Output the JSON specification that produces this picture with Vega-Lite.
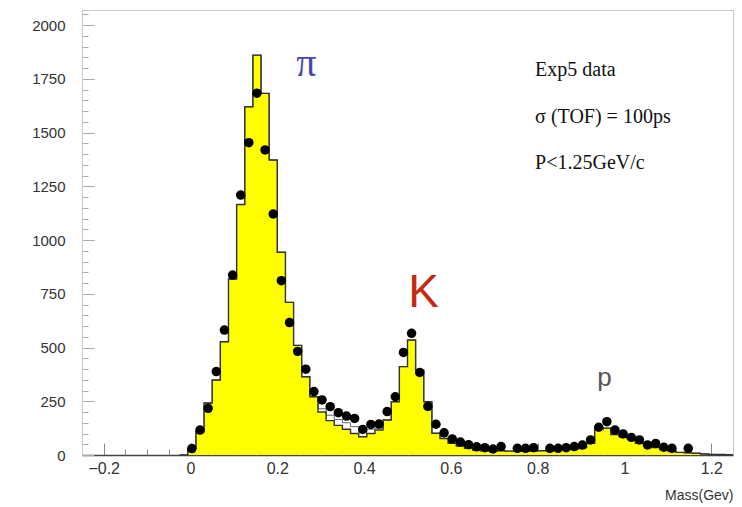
{
  "$schema": "https://vega.github.io/schema/vega-lite/v6.json",
  "width": 651,
  "height": 445,
  "autosize": "none",
  "padding": {"left": 82, "top": 10, "right": 9, "bottom": 52},
  "background": "white",
  "config": {"view": {"stroke": "#c8c8c8", "strokeWidth": 1}, "font": "Liberation Sans", "axis": {"labelOverlap": false, "labelFlush": false, "labelBound": false, "grid": false}},
  "resolve": {"axis": {"x": "independent", "y": "independent"}},
  "datasets": {
    "hist": [
      {"lo": -0.025, "n": 0, "tot": 0},
      {"lo": -0.00625, "n": 30, "tot": 30},
      {"lo": 0.0125, "n": 108, "tot": 108},
      {"lo": 0.03125, "n": 242, "tot": 242},
      {"lo": 0.05, "n": 349, "tot": 349},
      {"lo": 0.06875, "n": 527, "tot": 527},
      {"lo": 0.0875, "n": 819, "tot": 819},
      {"lo": 0.10625, "n": 1165, "tot": 1165},
      {"lo": 0.125, "n": 1620, "tot": 1620},
      {"lo": 0.14375, "n": 1860, "tot": 1860},
      {"lo": 0.1625, "n": 1682, "tot": 1682},
      {"lo": 0.18125, "n": 1372, "tot": 1372},
      {"lo": 0.2, "n": 943, "tot": 943},
      {"lo": 0.21875, "n": 710, "tot": 710},
      {"lo": 0.2375, "n": 510, "tot": 510},
      {"lo": 0.25625, "n": 364, "tot": 364},
      {"lo": 0.275, "n": 271, "tot": 271},
      {"lo": 0.29375, "n": 200, "tot": 215},
      {"lo": 0.3125, "n": 160, "tot": 185},
      {"lo": 0.33125, "n": 138, "tot": 165},
      {"lo": 0.35, "n": 120, "tot": 150},
      {"lo": 0.36875, "n": 100, "tot": 132},
      {"lo": 0.3875, "n": 85, "tot": 105},
      {"lo": 0.40625, "n": 100, "tot": 120},
      {"lo": 0.425, "n": 116, "tot": 125},
      {"lo": 0.44375, "n": 163, "tot": 163},
      {"lo": 0.4625, "n": 248, "tot": 248},
      {"lo": 0.48125, "n": 411, "tot": 411},
      {"lo": 0.5, "n": 535, "tot": 535},
      {"lo": 0.51875, "n": 395, "tot": 395},
      {"lo": 0.5375, "n": 248, "tot": 248},
      {"lo": 0.55625, "n": 101, "tot": 101},
      {"lo": 0.575, "n": 77, "tot": 77},
      {"lo": 0.59375, "n": 54, "tot": 54},
      {"lo": 0.6125, "n": 42, "tot": 42},
      {"lo": 0.63125, "n": 31, "tot": 31},
      {"lo": 0.65, "n": 23, "tot": 23},
      {"lo": 0.66875, "n": 20, "tot": 20},
      {"lo": 0.6875, "n": 18, "tot": 18},
      {"lo": 0.70625, "n": 20, "tot": 20},
      {"lo": 0.725, "n": 18, "tot": 18},
      {"lo": 0.74375, "n": 18, "tot": 18},
      {"lo": 0.7625, "n": 17, "tot": 17},
      {"lo": 0.78125, "n": 18, "tot": 18},
      {"lo": 0.8, "n": 20, "tot": 20},
      {"lo": 0.81875, "n": 20, "tot": 20},
      {"lo": 0.8375, "n": 22, "tot": 22},
      {"lo": 0.85625, "n": 25, "tot": 25},
      {"lo": 0.875, "n": 28, "tot": 28},
      {"lo": 0.89375, "n": 35, "tot": 35},
      {"lo": 0.9125, "n": 55, "tot": 55},
      {"lo": 0.93125, "n": 120, "tot": 120},
      {"lo": 0.95, "n": 125, "tot": 125},
      {"lo": 0.96875, "n": 95, "tot": 95},
      {"lo": 0.9875, "n": 85, "tot": 85},
      {"lo": 1.00625, "n": 75, "tot": 75},
      {"lo": 1.025, "n": 55, "tot": 55},
      {"lo": 1.04375, "n": 45, "tot": 45},
      {"lo": 1.0625, "n": 35, "tot": 35},
      {"lo": 1.08125, "n": 25, "tot": 25},
      {"lo": 1.1, "n": 18, "tot": 18},
      {"lo": 1.11875, "n": 12, "tot": 12},
      {"lo": 1.1375, "n": 10, "tot": 10},
      {"lo": 1.15625, "n": 8, "tot": 8},
      {"lo": 1.175, "n": 5, "tot": 5},
      {"lo": 1.19375, "n": 3, "tot": 3},
      {"lo": 1.2125, "n": 2, "tot": 2},
      {"lo": 1.23125, "n": 1, "tot": 1},
      {"lo": 1.25, "n": 1, "tot": 1}
    ],
    "pts": [
      {"c": 0.003125, "d": 30},
      {"c": 0.021875, "d": 116},
      {"c": 0.040625, "d": 217},
      {"c": 0.059375, "d": 388},
      {"c": 0.078125, "d": 581},
      {"c": 0.096875, "d": 837},
      {"c": 0.115625, "d": 1209},
      {"c": 0.134375, "d": 1453},
      {"c": 0.153125, "d": 1683},
      {"c": 0.171875, "d": 1419},
      {"c": 0.190625, "d": 1121},
      {"c": 0.209375, "d": 811},
      {"c": 0.228125, "d": 616},
      {"c": 0.246875, "d": 482},
      {"c": 0.265625, "d": 399},
      {"c": 0.284375, "d": 295},
      {"c": 0.303125, "d": 256},
      {"c": 0.321875, "d": 225},
      {"c": 0.340625, "d": 197},
      {"c": 0.359375, "d": 181},
      {"c": 0.378125, "d": 170},
      {"c": 0.396875, "d": 119},
      {"c": 0.415625, "d": 142},
      {"c": 0.434375, "d": 144},
      {"c": 0.453125, "d": 202},
      {"c": 0.471875, "d": 271},
      {"c": 0.490625, "d": 477},
      {"c": 0.509375, "d": 566},
      {"c": 0.528125, "d": 384},
      {"c": 0.546875, "d": 226},
      {"c": 0.565625, "d": 143},
      {"c": 0.584375, "d": 103},
      {"c": 0.603125, "d": 75},
      {"c": 0.621875, "d": 60},
      {"c": 0.640625, "d": 48},
      {"c": 0.659375, "d": 38},
      {"c": 0.678125, "d": 34},
      {"c": 0.696875, "d": 28},
      {"c": 0.715625, "d": 39},
      {"c": 0.753125, "d": 31},
      {"c": 0.771875, "d": 31},
      {"c": 0.790625, "d": 34},
      {"c": 0.828125, "d": 31},
      {"c": 0.846875, "d": 31},
      {"c": 0.865625, "d": 34},
      {"c": 0.884375, "d": 39},
      {"c": 0.903125, "d": 46},
      {"c": 0.921875, "d": 70},
      {"c": 0.940625, "d": 129},
      {"c": 0.959375, "d": 155},
      {"c": 0.978125, "d": 116},
      {"c": 0.996875, "d": 98},
      {"c": 1.015625, "d": 82},
      {"c": 1.034375, "d": 70},
      {"c": 1.053125, "d": 47},
      {"c": 1.071875, "d": 54},
      {"c": 1.090625, "d": 36},
      {"c": 1.109375, "d": 31},
      {"c": 1.146875, "d": 31}
    ]
  },
  "layer": [
    {
      "data": {"name": "hist"},
      "mark": {"type": "area", "interpolate": "step-after", "color": "#ffff00", "opacity": 1},
      "encoding": {
        "x": {
          "field": "lo", "type": "quantitative",
          "scale": {"domain": [-0.25, 1.25], "nice": false, "zero": false},
          "axis": {
            "orient": "bottom",
            "values": [-0.2, 0, 0.2, 0.4, 0.6, 0.8, 1, 1.2],
            "format": "~g",
            "tickSize": -12,
            "tickColor": "#888",
            "domainColor": "#444",
            "domainWidth": 1.5,
            "labelColor": "#333",
            "labelFontSize": 16,
            "labelPadding": 17,
            "labelFlush": false,
            "labelOverlap": false,
            "labelBound": false,
            "grid": false,
            "title": "Mass(Gev)",
            "titleAnchor": "end",
            "titleAlign": "right",
            "titleBaseline": "alphabetic",
            "titleY": 44,
            "titleFontWeight": "normal",
            "titleFontSize": 14,
            "titleColor": "#333"
          }
        },
        "y": {
          "field": "n", "type": "quantitative",
          "scale": {"domain": [0, 2070], "nice": false},
          "axis": {
            "orient": "left",
            "values": [0, 250, 500, 750, 1000, 1250, 1500, 1750, 2000],
            "format": "d",
            "tickSize": -12,
            "tickColor": "#aaa",
            "domainColor": "#c8c8c8",
            "labelColor": "#333",
            "labelFontSize": 15,
            "labelPadding": 29,
            "labelOverlap": false,
            "labelBound": false,
            "labelFlush": false,
            "grid": false,
            "title": null
          }
        }
      }
    },
    {
      "data": {"name": "hist"},
      "mark": {"type": "line", "interpolate": "step-after", "color": "#666", "strokeWidth": 1},
      "encoding": {
        "x": {"field": "lo", "type": "quantitative", "axis": null},
        "y": {"field": "tot", "type": "quantitative", "axis": null}
      }
    },
    {
      "data": {"name": "hist"},
      "mark": {"type": "line", "interpolate": "step-after", "color": "#333", "strokeWidth": 1.4},
      "encoding": {
        "x": {
          "field": "lo", "type": "quantitative",
          "axis": {
            "orient": "bottom",
            "values": [-0.15, -0.1, -0.05, 0.05, 0.1, 0.15, 0.25, 0.3, 0.35, 0.45, 0.5, 0.55, 0.65, 0.7, 0.75, 0.85, 0.9, 0.95, 1.05, 1.1, 1.15],
            "labels": false,
            "domain": false,
            "tickSize": -6,
            "tickColor": "#888",
            "grid": false,
            "title": null
          }
        },
        "y": {
          "field": "n", "type": "quantitative",
          "axis": {
            "orient": "left",
            "values": [50, 100, 150, 200, 300, 350, 400, 450, 550, 600, 650, 700, 800, 850, 900, 950, 1050, 1100, 1150, 1200, 1300, 1350, 1400, 1450, 1550, 1600, 1650, 1700, 1800, 1850, 1900, 1950, 2050],
            "labels": false,
            "domain": false,
            "tickSize": -6,
            "tickColor": "#aaa",
            "grid": false,
            "title": null
          }
        }
      }
    },
    {
      "data": {"name": "pts"},
      "mark": {"type": "point", "filled": true, "color": "#000", "opacity": 1, "size": 90},
      "encoding": {
        "x": {"field": "c", "type": "quantitative", "axis": null},
        "y": {"field": "d", "type": "quantitative", "axis": null}
      }
    },
    {
      "data": {"values": [{"x": 0.267, "y": 1763, "t": "π"}]},
      "mark": {"type": "text", "font": "Liberation Serif", "fontSize": 40, "color": "#4848b0", "align": "center", "baseline": "alphabetic"},
      "encoding": {
        "x": {"field": "x", "type": "quantitative", "axis": null},
        "y": {"field": "y", "type": "quantitative", "axis": null},
        "text": {"field": "t"}
      }
    },
    {
      "data": {"values": [{"x": 0.537, "y": 688, "t": "K"}]},
      "mark": {"type": "text", "font": "Liberation Sans", "fontSize": 46, "color": "#c42a10", "align": "center", "baseline": "alphabetic"},
      "encoding": {
        "x": {"field": "x", "type": "quantitative", "axis": null},
        "y": {"field": "y", "type": "quantitative", "axis": null},
        "text": {"field": "t"}
      }
    },
    {
      "data": {"values": [{"x": 0.954, "y": 321, "t": "p"}]},
      "mark": {"type": "text", "font": "Liberation Sans", "fontSize": 26, "color": "#555", "align": "center", "baseline": "alphabetic"},
      "encoding": {
        "x": {"field": "x", "type": "quantitative", "axis": null},
        "y": {"field": "y", "type": "quantitative", "axis": null},
        "text": {"field": "t"}
      }
    },
    {
      "data": {"values": [
        {"x": 0.794, "y": 1763, "t": "Exp5 data"},
        {"x": 0.794, "y": 1543, "t": "σ (TOF) = 100ps"},
        {"x": 0.794, "y": 1329, "t": "P<1.25GeV/c"}
      ]},
      "mark": {"type": "text", "font": "Liberation Serif", "fontSize": 20, "color": "#111", "align": "left", "baseline": "alphabetic"},
      "encoding": {
        "x": {"field": "x", "type": "quantitative", "axis": null},
        "y": {"field": "y", "type": "quantitative", "axis": null},
        "text": {"field": "t"}
      }
    }
  ]
}
